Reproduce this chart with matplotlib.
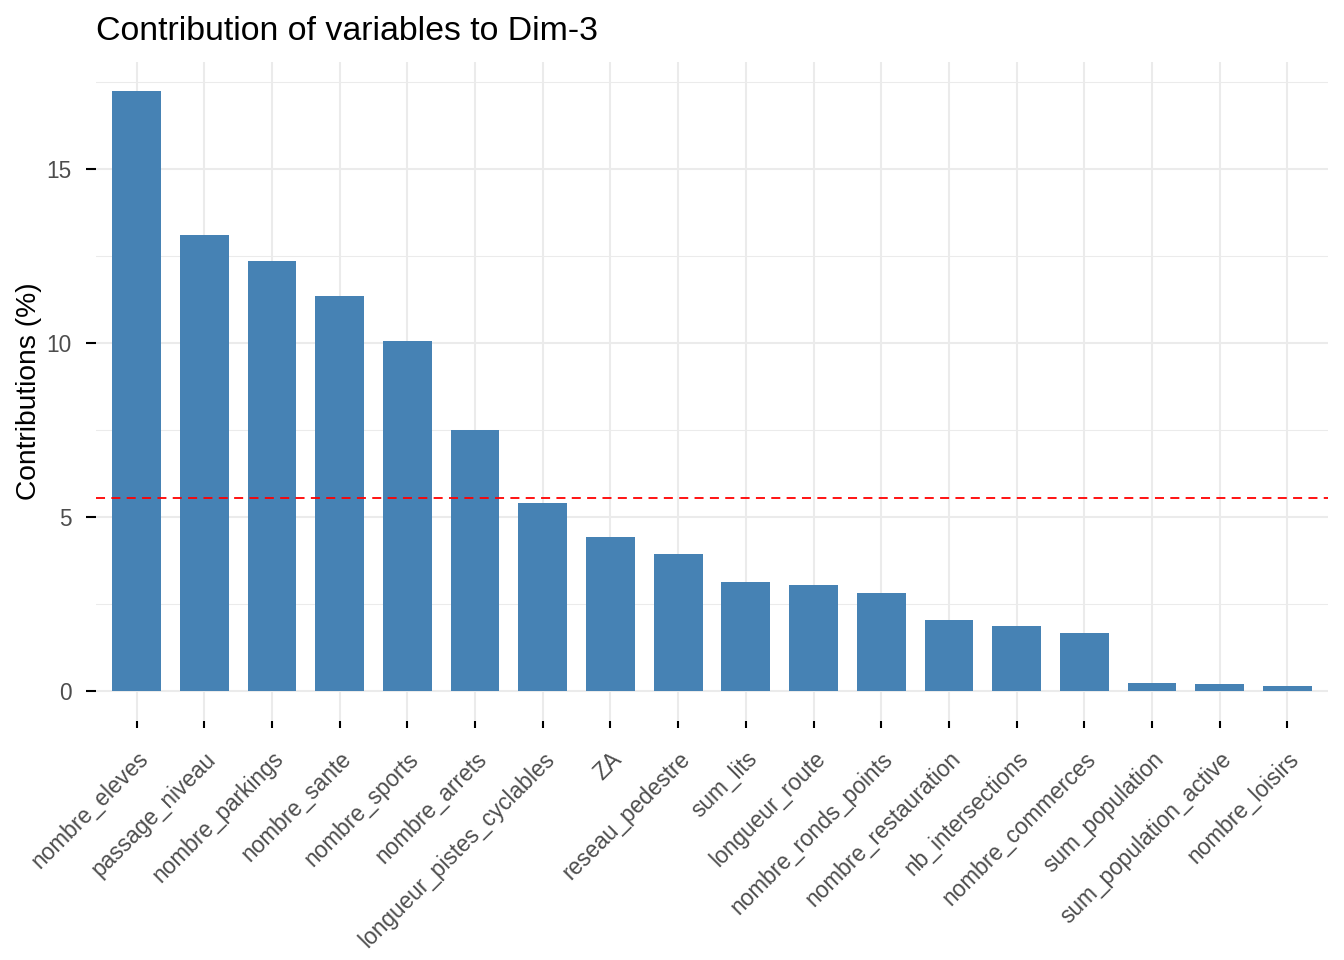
import numpy as np
import matplotlib
matplotlib.use("Agg")
import matplotlib.pyplot as plt
from matplotlib.ticker import MultipleLocator

plt.rcParams['font.family'] = ['Liberation Sans', 'DejaVu Sans']

# contributions
variables = ["nombre_eleves", "passage_niveau", "nombre_parkings", "nombre_sante",
             "nombre_sports", "nombre_arrets", "longueur_pistes_cyclables", "ZA",
             "reseau_pedestre", "sum_lits", "longueur_route", "nombre_ronds_points",
             "nombre_restauration", "nb_intersections", "nombre_commerces",
             "sum_population", "sum_population_active", "nombre_loisirs"]
contrib = [17.24, 13.10, 12.36, 11.35, 10.06, 7.50, 5.40, 4.43, 3.94,
           3.13, 3.05, 2.82, 2.04, 1.87, 1.67, 0.23, 0.20, 0.14]
expected = 100 / len(variables)

grid_col = "#EBEBEB"
text_col = "#4D4D4D"

fig = plt.figure(figsize=(13.44, 9.6), dpi=100)
ax = fig.add_axes([96 / 1344, 1 - 721 / 960, 1232 / 1344, (721 - 61.5) / 960])

x = np.arange(len(variables))
ax.bar(x, contrib, width=0.72, color="steelblue", zorder=3)
ax.axhline(expected, color="red", lw=1.3, ls=(0, (5, 3.5)), zorder=4)

# ggplot-like expansion
ax.set_xlim(-0.6, len(variables) - 1 + 0.6)
ymax = max(contrib)
ax.set_ylim(-0.05 * ymax, ymax * 1.05)

for s in ax.spines.values():
    s.set_visible(False)

ax.set_xticks(x)
ax.set_xticklabels(variables, rotation=45, ha="right", va="top",
                   rotation_mode="anchor", fontsize=16.3, color=text_col)
ax.yaxis.set_major_locator(MultipleLocator(5))
ax.yaxis.set_minor_locator(MultipleLocator(2.5))
ax.tick_params(axis="y", which="major", labelsize=16.3, labelcolor=text_col,
               length=7, width=1.5, color="black", pad=10.5)
ax.tick_params(axis="y", which="minor", length=0)
ax.tick_params(axis="x", which="major", length=5, width=1.5, color="black", pad=14)

ax.grid(True, which="major", color=grid_col, lw=1.45, zorder=0)
ax.grid(True, which="minor", axis="y", color=grid_col, lw=0.75, zorder=0)
ax.set_axisbelow(True)

ax.set_ylabel("Contributions (%)", fontsize=20.3, color="black")
ax.yaxis.set_label_coords(-0.044, 0.5)
ax.set_title("Contribution of variables to Dim-3", loc="left", fontsize=24.4,
             color="black", pad=15.5)

fig.savefig("out.png", dpi=100, facecolor="white")
